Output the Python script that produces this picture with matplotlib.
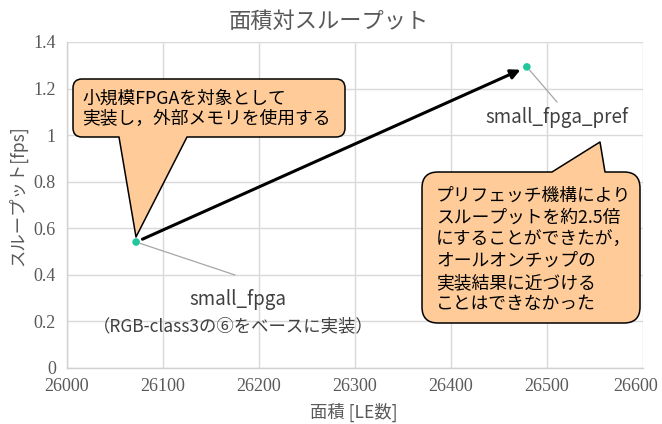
import matplotlib
matplotlib.use("Agg")
import matplotlib.pyplot as plt
from matplotlib.path import Path
from matplotlib.patches import PathPatch
from matplotlib.transforms import Affine2D, ScaledTranslation

plt.rcParams['font.family'] = ['Noto Sans CJK JP', 'DejaVu Sans']

# ---- data ----
names = ["small_fpga", "small_fpga_pref"]
area = [26072, 26479]
throughput = [0.541, 1.293]
xticks = [26000, 26100, 26200, 26300, 26400, 26500, 26600]
yticks = [0, 0.2, 0.4, 0.6, 0.8, 1.0, 1.2, 1.4]
ytick_labels = ["0", "0.2", "0.4", "0.6", "0.8", "1", "1.2", "1.4"]
title = "面積対スループット"
xlabel = "面積 [LE数]"
ylabel = "スループット[fps]"
sub_label = "（RGB-class3の⑥をベースに実装）"
callout_left = "小規模FPGAを対象として\n実装し，外部メモリを使用する"
callout_right = ("プリフェッチ機構により\nスループットを約2.5倍\nにすることができたが，\n"
                 "オールオンチップの\n実装結果に近づける\nことはできなかった")

W, H = 662, 424
fig = plt.figure(figsize=(W / 100, H / 100), dpi=100)
ax = fig.add_axes([67 / W, 1 - 368 / H, (643 - 67) / W, (368 - 42) / H])
px = Affine2D().scale(1 / W, -1 / H).translate(0, 1) + fig.transFigure

gray_txt = '#595959'
ax.set_xlim(26000, 26600)
ax.set_ylim(0, 1.4)
ax.set_xticks(xticks)
ax.set_yticks(yticks)
ax.set_xticklabels([str(t) for t in xticks], family='Liberation Serif', fontsize=13, color=gray_txt)
ax.set_yticklabels(ytick_labels, family='Liberation Serif', fontsize=13, color=gray_txt)
ax.tick_params(axis='x', length=0, pad=7)
ax.tick_params(axis='y', length=0, pad=8)
ax.grid(True, color='#D9D9D9', lw=1)
ax.set_axisbelow(True)
for s in ['top', 'right']:
    ax.spines[s].set_visible(False)
for s in ['left', 'bottom']:
    ax.spines[s].set_color('#D0D0D0')
    ax.spines[s].set_linewidth(1)

# keep the last x tick label inside the figure
last = ax.get_xticklabels()[-1]
last.set_transform(last.get_transform() + ScaledTranslation(-5 / 72, 0, fig.dpi_scale_trans))

# arrow between points
ax.annotate('', xy=(area[1], throughput[1]), xytext=(area[0], throughput[0]),
            arrowprops=dict(arrowstyle='-|>', lw=2.2, color='black',
                            shrinkA=5, shrinkB=5, mutation_scale=14), zorder=3)

ax.scatter(area, throughput, s=30, color='#21C79C', zorder=5, edgecolors='none')

# leader lines and labels
ax.annotate('', xy=(area[0], throughput[0]), xytext=(235, 275), textcoords=px,
            arrowprops=dict(arrowstyle='-', color='#A6A6A6', lw=0.9, shrinkA=0, shrinkB=3))
ax.annotate('', xy=(area[1], throughput[1]), xytext=(557, 102), textcoords=px,
            arrowprops=dict(arrowstyle='-', color='#A6A6A6', lw=0.9, shrinkA=0, shrinkB=3))
fig.text(238, 299, names[0], transform=px, ha='center', va='center', fontsize=13.5, color='#404040')
fig.text(557, 118, names[1], transform=px, ha='center', va='center', fontsize=13.5, color='#404040')
fig.text(233, 326, sub_label, transform=px, ha='center', va='center', fontsize=12.5, color='#404040')


def bubble(x0, y0, x1, y1, r, side, b1, b2, tip):
    v = [(x0 + r, y0)]
    c = [Path.MOVETO]
    if side == 'top':
        v += [(b1, y0), tip, (b2, y0)]
        c += [Path.LINETO] * 3
    v += [(x1 - r, y0), (x1, y0), (x1, y0 + r), (x1, y1 - r), (x1, y1), (x1 - r, y1)]
    c += [Path.LINETO, Path.CURVE3, Path.CURVE3, Path.LINETO, Path.CURVE3, Path.CURVE3]
    if side == 'bottom':
        v += [(b2, y1), tip, (b1, y1)]
        c += [Path.LINETO] * 3
    v += [(x0 + r, y1), (x0, y1), (x0, y1 - r), (x0, y0 + r), (x0, y0), (x0 + r, y0), (x0 + r, y0)]
    c += [Path.LINETO, Path.CURVE3, Path.CURVE3, Path.LINETO, Path.CURVE3, Path.CURVE3, Path.CLOSEPOLY]
    p = PathPatch(Path(v, c), transform=px, facecolor='#FFCC99', edgecolor='black',
                  lw=1.1, zorder=6, joinstyle='round')
    fig.patches.append(p)


bubble(73, 79, 345, 137, 9, 'bottom', 119, 187, (136, 237))
bubble(422, 172, 640, 323, 16, 'top', 552, 605, (600, 142))

fig.text(82, 109, callout_left, transform=px, ha='left', va='center', fontsize=12.8,
         color='black', linespacing=1.2, zorder=7)
fig.text(436, 250, callout_right, transform=px, ha='left', va='center', fontsize=12.8,
         color='black', linespacing=1.27, zorder=7)

fig.text(329, 21, title, transform=px, ha='center', va='center', fontsize=16, color=gray_txt)
fig.text(354, 412, xlabel, transform=px, ha='center', va='center', fontsize=12.5, color=gray_txt)
fig.text(18, 196, ylabel, transform=px, ha='center', va='center', fontsize=12.5, color=gray_txt,
         rotation=90)

fig.savefig('out.png', dpi=100)
